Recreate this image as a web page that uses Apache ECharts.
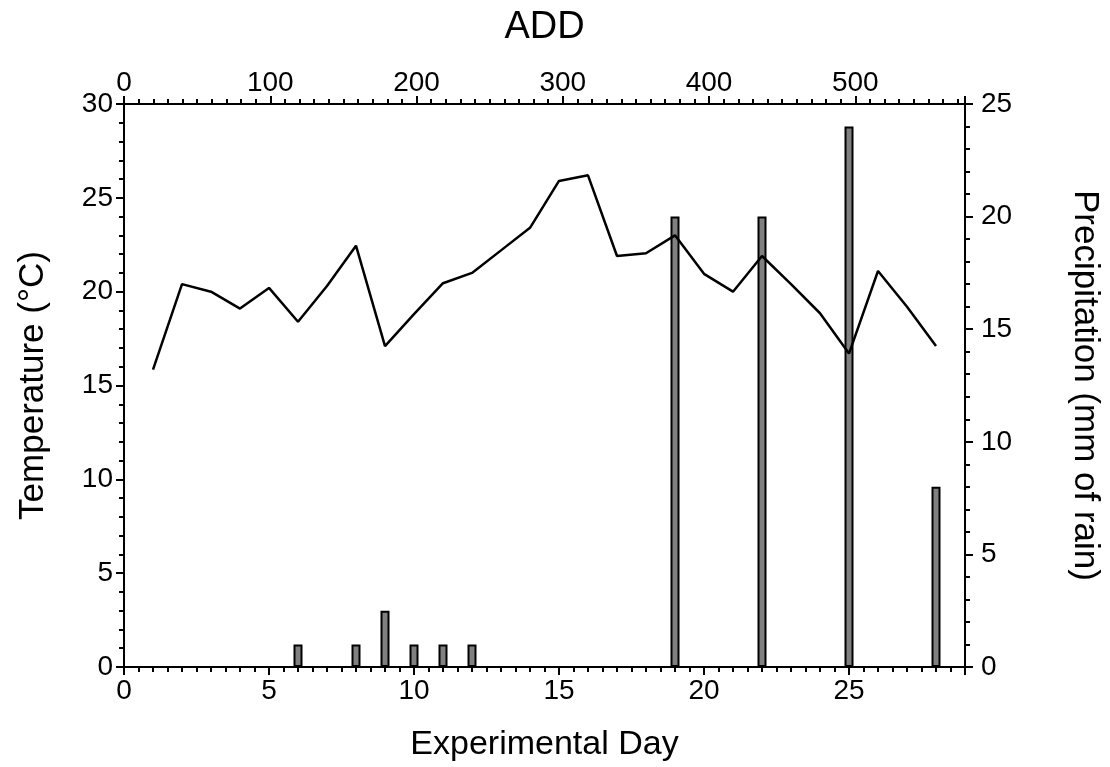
<!DOCTYPE html>
<html>
<head>
<meta charset="utf-8">
<script src="https://cdn.jsdelivr.net/npm/echarts@6/dist/echarts.min.js"></script>
<style>
html,body{margin:0;padding:0;background:#fff;overflow:hidden;}
#chart{width:1110px;height:767px;}
</style>
</head>
<body>
<div id="chart"></div>
<script>
var tempDays = [1,2,3,4,5,6,7,8,9,10,11,12,13,14,15,16,17,18,19,20,21,22,23,24,25,26,27,28];
var tempValues = [15.85,20.4,20.0,19.1,20.2,18.4,20.3,22.45,17.1,18.8,20.45,21.0,22.2,23.4,25.9,26.2,21.9,22.05,23.0,20.95,20.0,21.9,20.4,18.85,16.7,21.1,19.2,17.1];
var rainDays = [6,8,9,10,11,12,19,22,25,28];
var rainValues = [1,1,2.5,1,1,1,20,20,24,8];

var FONT = 'Liberation Sans, Arial, sans-serif';
var lineData = tempDays.map(function(d,i){return [d,tempValues[i]];});
var barData = rainDays.map(function(d,i){return [d,rainValues[i]];});

function ax(o, split, margin, nameSize){
  var base = {
    axisLine:{show:true,onZero:false,lineStyle:{color:'#000',width:2}},
    axisTick:{show:true,inside:false,length:8,lineStyle:{color:'#000',width:2}},
    minorTick:{show:true,splitNumber:split,length:5,lineStyle:{color:'#000',width:2}},
    splitLine:{show:false},
    axisLabel:{color:'#000',fontSize:28,fontFamily:FONT,margin:margin,showMaxLabel:o.hideMax?false:null},
    nameTextStyle:{color:'#000',fontSize:nameSize,fontFamily:FONT},
    nameLocation:'middle'
  };
  delete o.hideMax;
  return Object.assign(base,o);
}

var chart = echarts.init(document.getElementById('chart'));
chart.setOption({
  animation:false,
  backgroundColor:'#fff',
  grid:{left:124,right:140,top:104,bottom:99,containLabel:false},
  xAxis:[
    ax({type:'value',position:'bottom',min:0,max:29,interval:5,name:'Experimental Day',nameGap:61,hideMax:true},10,10,34),
    ax({type:'value',position:'top',min:0,max:575,interval:100,name:'ADD',nameGap:57,hideMax:true},10,7,38)
  ],
  yAxis:[
    ax({type:'value',position:'left',min:0,max:30,interval:5,name:'Temperature (°C)',nameGap:73},5,11,35),
    ax({type:'value',position:'right',min:0,max:25,interval:5,name:'Precipitation (mm of rain)',nameGap:102,nameRotate:-90},5,16,35)
  ],
  series:[
    {type:'bar',xAxisIndex:0,yAxisIndex:1,data:barData,barWidth:9,
     itemStyle:{color:'#808080',borderColor:'#000',borderWidth:2},z:2},
    {type:'line',xAxisIndex:0,yAxisIndex:0,data:lineData,showSymbol:false,symbol:'none',
     lineStyle:{color:'#000',width:2.5},z:3}
  ]
});
</script>
</body>
</html>
